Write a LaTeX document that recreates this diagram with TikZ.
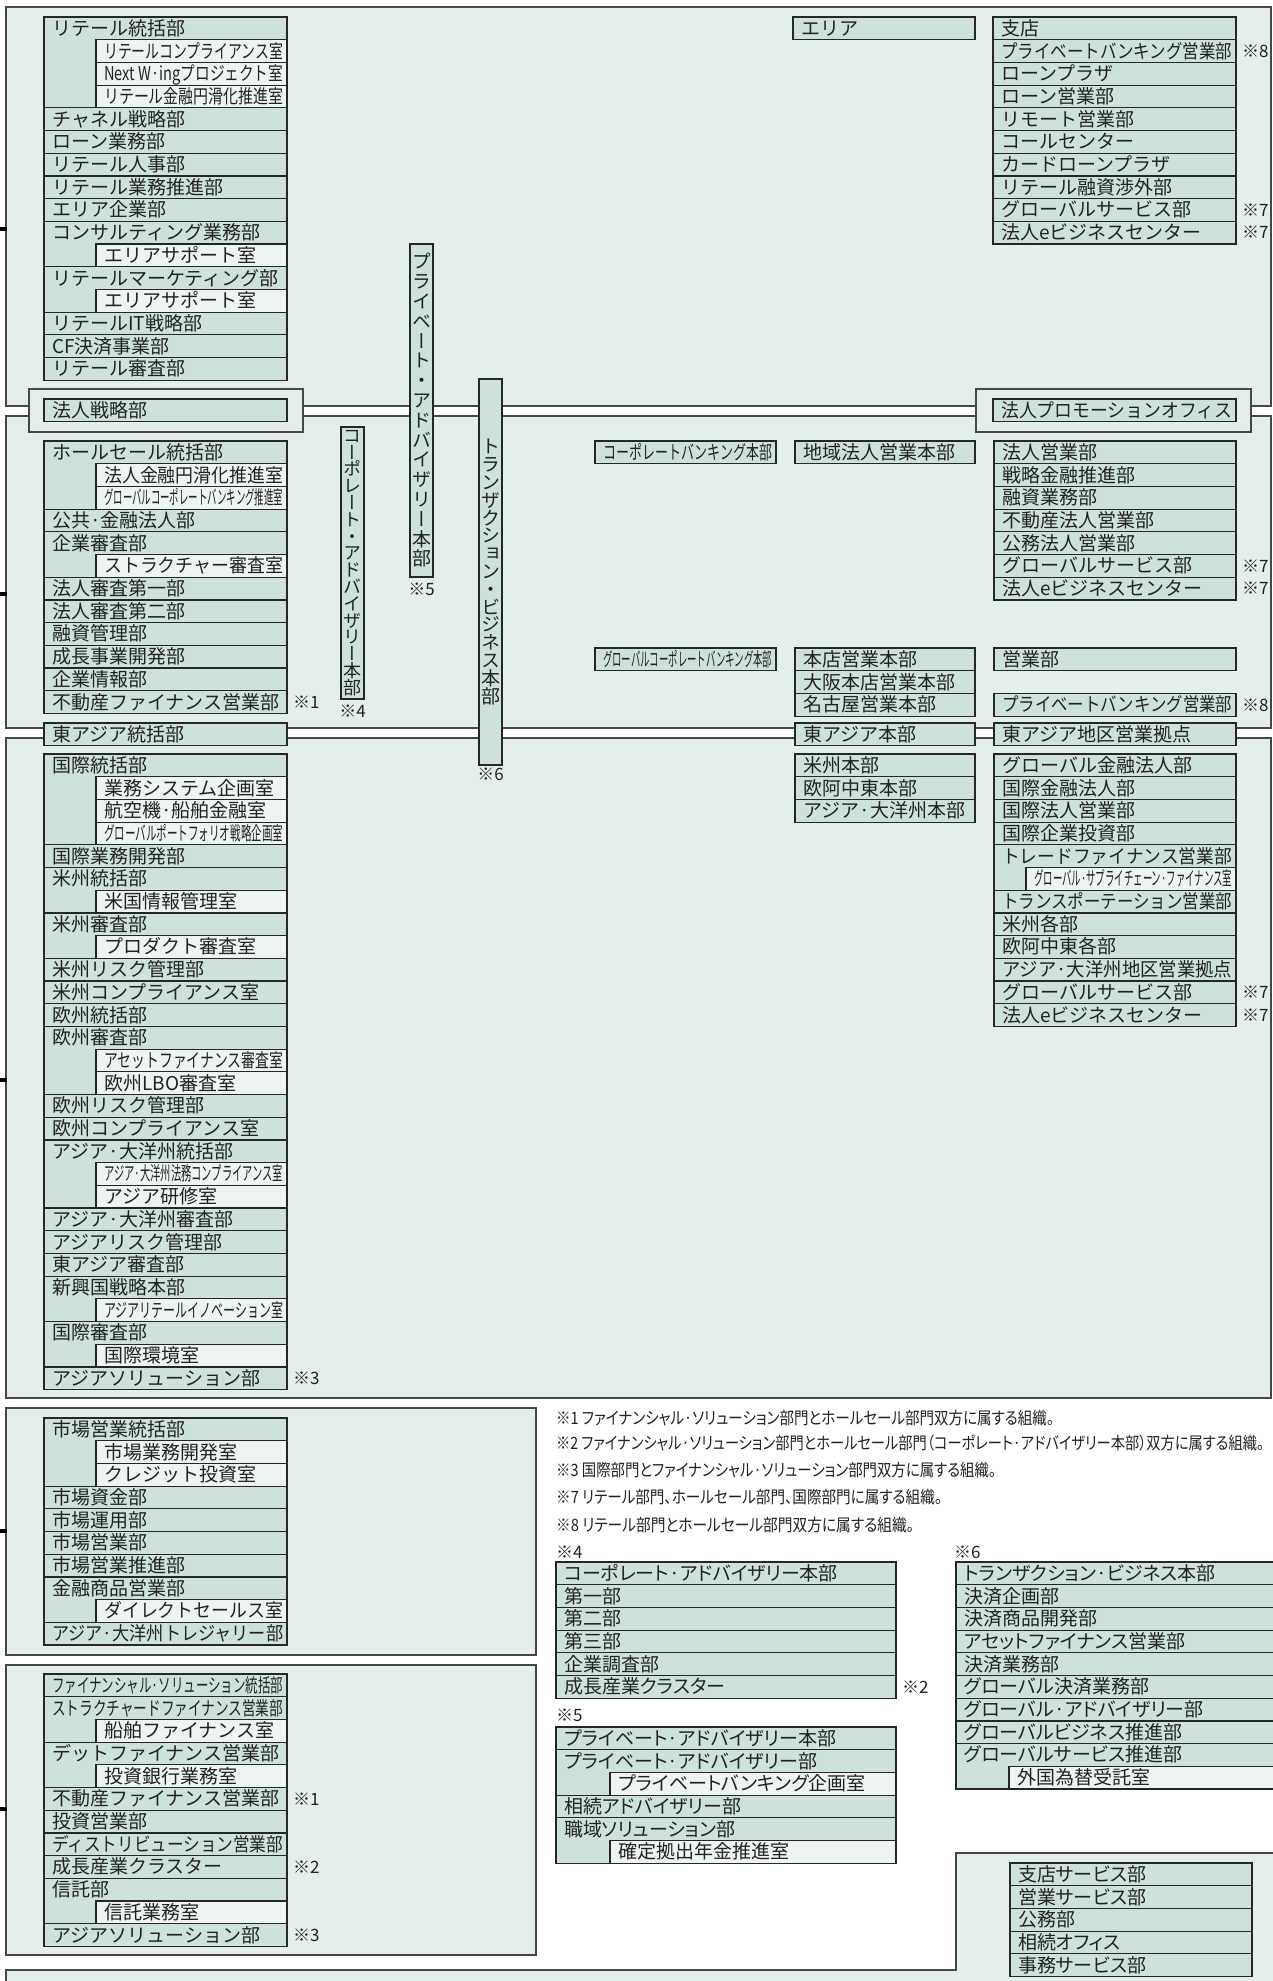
\documentclass[tikz,border=0pt]{standalone}
\usepackage{graphicx}
\usepackage{fontspec}
\setmainfont{Noto Sans CJK JP}
\newfontfamily\pfont[RawFeature=+palt]{Noto Sans CJK JP}
\newfontfamily\vfont[RawFeature=+vert]{Noto Sans CJK JP}
\usetikzlibrary{positioning,calc}
\definecolor{oframe}{HTML}{E4EEEA}
\definecolor{obox}{HTML}{CEE2DA}
\definecolor{osub}{HTML}{EDF4F1}
\definecolor{oline}{HTML}{262626}
\definecolor{otext}{HTML}{222222}
\let\rowfont\relax
\tikzset{
  frame/.style={draw=oline!85,fill=oframe,line width=1.4pt},
  lstbox/.style={draw=oline,fill=obox,line width=1.2pt},
  subbox/.style={draw=oline,fill=osub,line width=1.2pt},
  sep/.style={draw=oline,line width=1.2pt},
  row/.style={anchor=west,inner sep=0pt,text height=16.5pt,text depth=2.5pt,font=\rowfont\fontsize{19}{22}\selectfont,text=otext},
  marktxt/.style={anchor=west,inner sep=0pt,font=\pfont\fontsize{17}{20}\selectfont,text=otext},
  notetxt/.style={anchor=west,inner sep=0pt,font=\pfont\fontsize{17}{20}\selectfont,text=otext},
  vbar/.style={draw=oline,fill=obox,line width=1.2pt,minimum width=23pt,inner sep=0pt,align=center,text=otext},
  tick/.style={draw=black,line width=3.5pt},
}
% squeeze a text sideways when it is wider than #1
\newsavebox\fitbox
\newlength\fitlen
\newcommand{\fitw}[2]{\sbox\fitbox{#2}\setlength\fitlen{\wd\fitbox}%
  \ifdim\fitlen>#1pt\relax\pgfmathsetmacro\fitr{#1/\fitlen}\scalebox{\fitr}[1]{\usebox\fitbox}\else\usebox\fitbox\fi}
% one column of units: name, left, sub left, right, top, {text/m or s,...}
\newcommand{\orglist}[6]{%
  \foreach \t/\k [count=\i] in {#6} {\xdef\nrows{\i}}
  \draw[lstbox] (#2,#5) rectangle (#4,{#5+\nrows*22.7});
  \foreach \t/\k [count=\i] in {#6} {
    \pgfmathsetmacro{\y}{#5+(\i-1)*22.7}
    \if\k s
      \pgfmathsetmacro{\tw}{#4-#3-12}
      \draw[subbox] (#3,\y) rectangle (#4,\y+22.7);
      \node[row] (#1-\i) at (#3+8,\y+11.35) {\fitw{\tw}{\t}};
    \else
      \pgfmathsetmacro{\tw}{#4-#2-12}
      \ifnum\i>1 \draw[sep] (#2,\y) -- (#4,\y); \fi
      \node[row] (#1-\i) at (#2+8,\y+11.35) {\fitw{\tw}{\t}};
    \fi
    \coordinate (#1-\i-r) at (#4,\y+11.35);
  }
}

\begin{document}
\begin{tikzpicture}[x=1pt,y=-1pt]
  \useasboundingbox (0,0) rectangle (1272,1981);
  \fill[white] (0,0) rectangle (1272,1981);
  % frames
  \draw[frame] (6,7) rectangle (1271,406);
  \draw[frame] (6,416) rectangle (1271,728);
  \draw[frame] (6,738) rectangle (1271,1398);
  \draw[frame] (6,1408) rectangle (536,1655);
  \draw[frame] (6,1665) rectangle (536,1955);
  \draw[frame] (6,1995) -- (6,1970) -- (956,1970) -- (956,1853) -- (1285,1853) -- (1285,1995);
  \foreach \ty in {229,594,1080,1531,1809} { \draw[tick] (0,\ty) -- (7,\ty); }
  \draw[frame] (29,389) rectangle (303,432);
  \draw[frame] (976,389) rectangle (1251,432);
  % honbu bars
  \node[vbar,minimum height=333pt,font={\vfont\fontsize{19}{19.8}\selectfont}] (pab) at (421.5,410.5)
    {プ\\ラ\\イ\\ベ\\ー\\ト\\・\\ア\\ド\\バ\\イ\\ザ\\リ\\ー\\本\\部};
  \node[vbar,minimum height=272pt,font={\vfont\fontsize{18}{16.8}\selectfont}] (cab) at (352.5,563)
    {コ\\ー\\ポ\\レ\\ー\\ト\\・\\ア\\ド\\バ\\イ\\ザ\\リ\\ー\\本\\部};
  \node[vbar,minimum height=386pt,font={\vfont\fontsize{19}{17.8}\selectfont}] (tbb) at (490.5,572)
    {ト\\ラ\\ン\\ザ\\ク\\シ\\ョ\\ン\\・\\ビ\\ジ\\ネ\\ス\\本\\部};
  \node[marktxt,anchor=north] (m5) at ([yshift=-5pt]pab.south) {※5};
  \node[marktxt,anchor=north] (m4) at ([yshift=-5pt]cab.south) {※4};
  \node[marktxt,anchor=north] (m6) at ([yshift=-2pt]tbb.south) {※6};
  % retail
  \orglist{rl}{44}{96}{287}{17}{リテール統括部/m,リテールコンプライアンス室/s,Next W·ingプロジェクト室/s,リテール金融円滑化推進室/s,チャネル戦略部/m,ローン業務部/m,リテール人事部/m,リテール業務推進部/m,エリア企業部/m,コンサルティング業務部/m,エリアサポート室/s,リテールマーケティング部/m,エリアサポート室/s,リテールIT戦略部/m,CF決済事業部/m,リテール審査部/m}
  \orglist{ra}{793}{793}{975}{17}{エリア/m}
  \orglist{rb}{993}{993}{1236}{17}{支店/m,プライベートバンキング営業部/m,ローンプラザ/m,ローン営業部/m,リモート営業部/m,コールセンター/m,カードローンプラザ/m,リテール融資渉外部/m,グローバルサービス部/m,法人eビジネスセンター/m}
  \node[marktxt] (rbm2) at ([xshift=6pt]rb-2-r) {※8};
  \node[marktxt] (rbm9) at ([xshift=6pt]rb-9-r) {※7};
  \node[marktxt] (rbm10) at ([xshift=6pt]rb-10-r) {※7};
  \orglist{hs}{44}{44}{287}{399}{法人戦略部/m}
  \orglist{hp}{993}{993}{1236}{399}{法人プロモーションオフィス/m}
  % wholesale
  \orglist{wl}{44}{96}{287}{441}{ホールセール統括部/m,法人金融円滑化推進室/s,グローバルコーポレートバンキング推進室/s,公共·金融法人部/m,企業審査部/m,ストラクチャー審査室/s,法人審査第一部/m,法人審査第二部/m,融資管理部/m,成長事業開発部/m,企業情報部/m,不動産ファイナンス営業部/m}
  \node[marktxt] (wlm12) at ([xshift=6pt]wl-12-r) {※1};
  \orglist{wcb}{595}{595}{776}{441}{コーポレートバンキング本部/m}
  \orglist{wrh}{795}{795}{975}{441}{地域法人営業本部/m}
  \orglist{wcl}{994}{994}{1236}{441}{法人営業部/m,戦略金融推進部/m,融資業務部/m,不動産法人営業部/m,公務法人営業部/m,グローバルサービス部/m,法人eビジネスセンター/m}
  \node[marktxt] (wclm6) at ([xshift=6pt]wcl-6-r) {※7};
  \node[marktxt] (wclm7) at ([xshift=6pt]wcl-7-r) {※7};
  \orglist{wgb}{595}{595}{776}{648}{グローバルコーポレートバンキング本部/m}
  \orglist{whq}{795}{795}{975}{648}{本店営業本部/m,大阪本店営業本部/m,名古屋営業本部/m}
  \orglist{wsd}{994}{994}{1236}{648}{営業部/m}
  \orglist{wpb}{994}{994}{1236}{693.5}{プライベートバンキング営業部/m}
  \node[marktxt] (wpbm) at ([xshift=6pt]wpb-1-r) {※8};
  \orglist{ea}{44}{44}{287}{723}{東アジア統括部/m}
  \orglist{eb}{795}{795}{975}{723}{東アジア本部/m}
  \orglist{ec}{994}{994}{1236}{723}{東アジア地区営業拠点/m}
  % international
  \orglist{il}{44}{96}{287}{754}{国際統括部/m,業務システム企画室/s,航空機·船舶金融室/s,グローバルポートフォリオ戦略企画室/s,国際業務開発部/m,米州統括部/m,米国情報管理室/s,米州審査部/m,プロダクト審査室/s,米州リスク管理部/m,米州コンプライアンス室/m,欧州統括部/m,欧州審査部/m,アセットファイナンス審査室/s,欧州LBO審査室/s,欧州リスク管理部/m,欧州コンプライアンス室/m,アジア·大洋州統括部/m,アジア·大洋州法務コンプライアンス室/s,アジア研修室/s,アジア·大洋州審査部/m,アジアリスク管理部/m,東アジア審査部/m,新興国戦略本部/m,アジアリテールイノベーション室/s,国際審査部/m,国際環境室/s,アジアソリューション部/m}
  \node[marktxt] (ilm28) at ([xshift=6pt]il-28-r) {※3};
  \orglist{ir}{795}{795}{975}{754}{米州本部/m,欧阿中東本部/m,アジア·大洋州本部/m}
  \orglist{ig}{994}{1026}{1236}{754}{グローバル金融法人部/m,国際金融法人部/m,国際法人営業部/m,国際企業投資部/m,トレードファイナンス営業部/m,グローバル·サプライチェーン·ファイナンス室/s,トランスポーテーション営業部/m,米州各部/m,欧阿中東各部/m,アジア·大洋州地区営業拠点/m,グローバルサービス部/m,法人eビジネスセンター/m}
  \node[marktxt] (igm11) at ([xshift=6pt]ig-11-r) {※7};
  \node[marktxt] (igm12) at ([xshift=6pt]ig-12-r) {※7};
  % markets, financial solutions
  \orglist{mk}{44}{96}{287}{1418}{市場営業統括部/m,市場業務開発室/s,クレジット投資室/s,市場資金部/m,市場運用部/m,市場営業部/m,市場営業推進部/m,金融商品営業部/m,ダイレクトセールス室/s,アジア·大洋州トレジャリー部/m}
  \orglist{fs}{44}{96}{287}{1674}{ファイナンシャル·ソリューション統括部/m,ストラクチャードファイナンス営業部/m,船舶ファイナンス室/s,デットファイナンス営業部/m,投資銀行業務室/s,不動産ファイナンス営業部/m,投資営業部/m,ディストリビューション営業部/m,成長産業クラスター/m,信託部/m,信託業務室/s,アジアソリューション部/m}
  \node[marktxt] (fsm6) at ([xshift=6pt]fs-6-r) {※1};
  \node[marktxt] (fsm9) at ([xshift=6pt]fs-9-r) {※2};
  \node[marktxt] (fsm12) at ([xshift=6pt]fs-12-r) {※3};
  % notes
  \node[notetxt] (nt1) at (556,1418) {\fitw{498}{※1 ファイナンシャル·ソリューション部門とホールセール部門双方に属する組織。}};
  \node[notetxt] (nt2) at (556,1443) {\fitw{708}{※2 ファイナンシャル·ソリューション部門とホールセール部門（コーポレート·アドバイザリー本部）双方に属する組織。}};
  \node[notetxt] (nt3) at (556,1470) {\fitw{440}{※3 国際部門とファイナンシャル·ソリューション部門双方に属する組織。}};
  \node[notetxt] (nt7) at (556,1497) {\fitw{386}{※7 リテール部門、ホールセール部門、国際部門に属する組織。}};
  \node[notetxt] (nt8) at (556,1525) {\fitw{358}{※8 リテール部門とホールセール部門双方に属する組織。}};
  \node[marktxt] (h4) at (556,1552) {※4};
  \node[marktxt] (h6) at (954,1552) {※6};
  \node[marktxt] (h5) at (556,1715) {※5};
  \def\rowfont{\pfont}
  \orglist{ca}{556}{556}{896}{1562}{コーポレート·アドバイザリー本部/m,第一部/m,第二部/m,第三部/m,企業調査部/m,成長産業クラスター/m}
  \node[marktxt] (cam6) at ([xshift=6pt]ca-6-r) {※2};
  \orglist{pa}{556}{610}{896}{1727}{プライベート·アドバイザリー本部/m,プライベート·アドバイザリー部/m,プライベートバンキング企画室/s,相続アドバイザリー部/m,職域ソリューション部/m,確定拠出年金推進室/s}
  \orglist{tb}{956}{1009}{1285}{1562}{トランザクション·ビジネス本部/m,決済企画部/m,決済商品開発部/m,アセットファイナンス営業部/m,決済業務部/m,グローバル決済業務部/m,グローバル·アドバイザリー部/m,グローバルビジネス推進部/m,グローバルサービス推進部/m,外国為替受託室/s}
  \orglist{sv}{1010}{1010}{1252}{1863}{支店サービス部/m,営業サービス部/m,公務部/m,相続オフィス/m,事務サービス部/m}
\end{tikzpicture}
\end{document}
